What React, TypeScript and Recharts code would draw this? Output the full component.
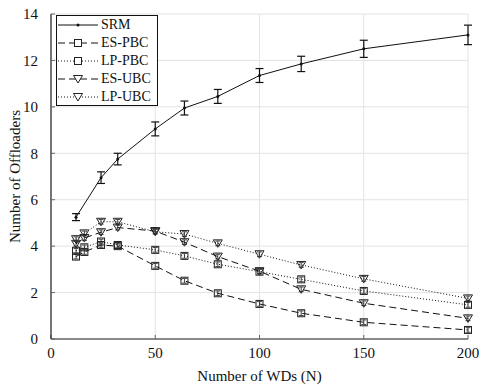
import React from "react";
import { LineChart, Line, XAxis, YAxis, CartesianGrid, ErrorBar } from "recharts";

const nValues = [12, 16, 24, 32, 50, 64, 80, 100, 120, 150, 200];
const srmN = [12, 24, 32, 50, 64, 80, 100, 120, 150, 200];
const srmValues = [5.25, 6.95, 7.75, 9.05, 9.95, 10.45, 11.35, 11.85, 12.5, 13.1];
const srmErr = [0.15, 0.25, 0.25, 0.3, 0.3, 0.3, 0.3, 0.33, 0.37, 0.42];
const esPbc = [3.55, 3.75, 4.05, 4.0, 3.15, 2.51, 1.97, 1.51, 1.11, 0.72, 0.39];
const lpPbc = [3.8, 3.95, 4.2, 4.05, 3.84, 3.58, 3.22, 2.9, 2.57, 2.07, 1.47];
const esUbc = [4.1, 4.35, 4.6, 4.8, 4.65, 4.17, 3.55, 2.92, 2.14, 1.54, 0.89];
const lpUbc = [4.3, 4.55, 5.05, 5.05, 4.62, 4.52, 4.12, 3.65, 3.19, 2.59, 1.75];
const smallErr = [0.1, 0.1, 0.1, 0.1, 0.1, 0.1, 0.1, 0.1, 0.1, 0.1, 0.1];
const xTicks = [0, 50, 100, 150, 200];
const yTicks = [0, 2, 4, 6, 8, 10, 12, 14];
const legendNames = ["SRM", "ES-PBC", "LP-PBC", "ES-UBC", "LP-UBC"];

const srmData = srmN.map((n, i) => ({ n, v: srmValues[i], e: srmErr[i] }));
const mk = (vals: number[]) => nValues.map((n, i) => ({ n, v: vals[i], e: smallErr[i] }));

const FONT = "Liberation Serif, Times New Roman, serif";
const DASH = "7 4";
const DOT = "1 2";

const SmallDot = (p: any) => <circle cx={p.cx} cy={p.cy} r={1.5} fill="#111" stroke="none" />;
const SquareDot = (p: any) => (
  <rect x={p.cx - 3.5} y={p.cy - 3.5} width={7} height={7} fill="none" stroke="#222" strokeWidth={1} />
);
const TriDot = (p: any) => (
  <path d={`M${p.cx - 4.5},${p.cy - 3.5} L${p.cx + 4.5},${p.cy - 3.5} L${p.cx},${p.cy + 4} Z`} fill="none" stroke="#222" strokeWidth={1} />
);

function LegendSample({ dash, marker }: { dash?: string; marker: string }) {
  return (
    <svg width={42} height={14} style={{ display: "block" }}>
      <line x1={1} y1={7} x2={41} y2={7} stroke="#111" strokeWidth={1} strokeDasharray={dash} />
      {marker === "dot" && <circle cx={21} cy={7} r={1.5} fill="#111" />}
      {marker === "sq" && <rect x={17.5} y={3.5} width={7} height={7} fill="#fff" stroke="#222" />}
      {marker === "tri" && <path d="M16.5,3.5 L25.5,3.5 L21,11 Z" fill="#fff" stroke="#222" />}
    </svg>
  );
}

const legendStyles = [
  { dash: undefined, marker: "dot" },
  { dash: DASH, marker: "sq" },
  { dash: DOT, marker: "sq" },
  { dash: DASH, marker: "tri" },
  { dash: DOT, marker: "tri" },
];

const tickStyle = { fill: "#111", fontSize: 15, fontFamily: FONT, style: { fontFamily: FONT } };

export default function App() {
  return (
    <div style={{ position: "absolute", left: 0, top: 0, width: 482, height: 385, background: "#fff", fontFamily: FONT }}>
      <style>{`.recharts-wrapper text, .recharts-surface text { font-family: "Liberation Serif", "Times New Roman", serif !important; }`}</style>
      <LineChart width={482} height={385} data={srmData} margin={{ top: 14, right: 14, left: 0, bottom: 0 }} style={{ fontFamily: FONT }}>
        <CartesianGrid stroke="#e3e3e3" strokeWidth={1} />
        <XAxis
          dataKey="n"
          type="number"
          domain={[0, 200]}
          ticks={xTicks}
          allowDuplicatedCategory={false}
          height={46}
          tickSize={-4}
          tickMargin={12}
          axisLine={{ stroke: "#222", strokeWidth: 1.2 }}
          tickLine={{ stroke: "#666" }}
          tick={tickStyle}
          label={(props: any) => {
            const vb = props.viewBox;
            return (
              <text x={vb.x + vb.width / 2} y={381} textAnchor="middle" fill="#111" fontSize={15} style={{ fontFamily: FONT }}>
                Number of WDs (N)
              </text>
            );
          }}
        />
        <YAxis
          type="number"
          domain={[0, 14]}
          ticks={yTicks}
          width={51}
          tickSize={-4}
          tickMargin={17}
          axisLine={{ stroke: "#222", strokeWidth: 1.2 }}
          tickLine={{ stroke: "#666" }}
          tick={tickStyle}
          label={(props: any) => {
            const vb = props.viewBox;
            const cy = vb.y + vb.height / 2;
            return (
              <text x={15} y={cy} transform={`rotate(-90 15 ${cy})`} textAnchor="middle" dominantBaseline="central" fill="#111" fontSize={15} style={{ fontFamily: FONT }}>
                Number of Offloaders
              </text>
            );
          }}
        />
        <Line data={srmData} dataKey="v" stroke="#111" strokeWidth={1} dot={SmallDot} isAnimationActive={false}>
          <ErrorBar dataKey="e" width={4} stroke="#111" strokeWidth={1.2} />
        </Line>
        <Line data={mk(esPbc)} dataKey="v" stroke="#111" strokeWidth={1} strokeDasharray={DASH} dot={SquareDot} isAnimationActive={false}>
          <ErrorBar dataKey="e" width={2.5} stroke="#444" strokeWidth={1} />
        </Line>
        <Line data={mk(lpPbc)} dataKey="v" stroke="#111" strokeWidth={1} strokeDasharray={DOT} dot={SquareDot} isAnimationActive={false}>
          <ErrorBar dataKey="e" width={2.5} stroke="#444" strokeWidth={1} />
        </Line>
        <Line data={mk(esUbc)} dataKey="v" stroke="#111" strokeWidth={1} strokeDasharray={DASH} dot={TriDot} isAnimationActive={false}>
          <ErrorBar dataKey="e" width={2.5} stroke="#444" strokeWidth={1} />
        </Line>
        <Line data={mk(lpUbc)} dataKey="v" stroke="#111" strokeWidth={1} strokeDasharray={DOT} dot={TriDot} isAnimationActive={false}>
          <ErrorBar dataKey="e" width={2.5} stroke="#444" strokeWidth={1} />
        </Line>
      </LineChart>
      <div
        style={{
          position: "absolute",
          left: 56,
          top: 15,
          width: 102,
          height: 91,
          border: "1px solid #111",
          background: "#fff",
          fontFamily: FONT,
          fontSize: 14,
          color: "#111",
          boxSizing: "border-box",
          paddingTop: 0,
        }}
      >
        {legendNames.map((name, i) => (
          <div key={name} style={{ display: "flex", alignItems: "center", height: 18 }}>
            <LegendSample dash={legendStyles[i].dash} marker={legendStyles[i].marker} />
            <span style={{ marginLeft: 2, lineHeight: "18px", whiteSpace: "nowrap" }}>{name}</span>
          </div>
        ))}
      </div>
    </div>
  );
}
